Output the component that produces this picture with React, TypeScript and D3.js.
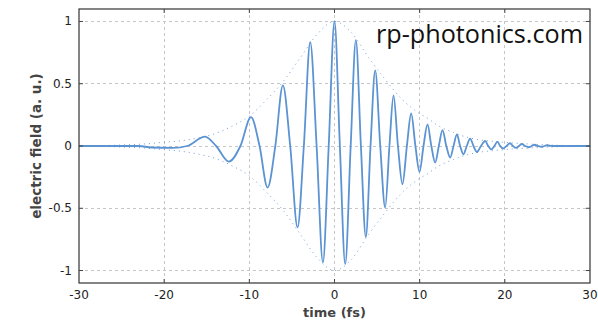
import React from 'react';
import * as d3 from 'd3';

// field samples: extrema and zero crossings
const waveT = [
  -30, -23, -21.5, -19, -17.3, -15.2, -13.9, -12.4, -11.05, -9.8, -8.8, -7.86, -6.95, -6.06, -5.2, -4.34,
  -3.6, -2.85, -2.1, -1.36, -0.68, 0, 0.63, 1.26, 1.9, 2.51, 3.1, 3.68, 4.23, 4.78, 5.37, 5.95,
  6.45, 6.93, 7.45, 7.98, 8.5, 9.0, 9.5, 9.98, 10.45, 10.92, 11.37, 11.82, 12.25, 12.68, 13.13, 13.58,
  13.98, 14.37, 14.75, 15.14, 15.53, 15.93, 16.32, 16.71, 17.2, 17.69, 18.05, 18.4, 18.77, 19.13, 19.45, 19.8,
  20.2, 20.6, 20.95, 21.3, 21.65, 22.0, 22.4, 22.8, 23.15, 23.5, 23.9, 24.3, 24.65, 25.0, 25.5, 30,
];
const waveV = [
  0, 0, -0.012, -0.015, 0, 0.075, 0, -0.125, 0, 0.232, 0, -0.334, 0, 0.487, 0, -0.654,
  0, 0.834, 0, -0.935, 0, 1.0, 0, -0.949, 0, 0.85, 0, -0.73, 0, 0.607, 0, -0.494,
  0, 0.407, 0, -0.307, 0, 0.262, 0, -0.208, 0, 0.174, 0, -0.133, 0, 0.128, 0, -0.093,
  0, 0.094, 0, -0.067, 0, 0.059, 0, -0.048, 0, 0.04, 0, -0.027, 0, 0.035, 0, -0.02,
  0, 0.022, 0, -0.015, 0, 0.016, 0, -0.01, 0, 0.01, 0, -0.006, 0, 0.006, 0, 0,
];

// envelope (dotted), upper half; lower is mirrored
const envT = [-30, -25, -22, -20, -18, -16, -14, -12, -10, -8, -6, -4, -2, 0, 2, 4, 6, 8, 9, 10, 11, 12, 13, 14, 15, 17, 19, 21, 24, 30];
const envV = [0, 0.008, 0.018, 0.03, 0.042, 0.065, 0.1, 0.16, 0.24, 0.37, 0.52, 0.71, 0.9, 1.0, 0.91, 0.71, 0.53, 0.37, 0.31, 0.26, 0.22, 0.17, 0.135, 0.108, 0.082, 0.05, 0.035, 0.024, 0.012, 0];

const xTicks = [-30, -20, -10, 0, 10, 20, 30];
const yTicks = [-1, -0.5, 0, 0.5, 1];

const W = 598, H = 320;
const margin = { top: 9, right: 8, bottom: 37, left: 79 };
const BLUE = '#5b93d3';
const FONT = 'DejaVu Sans, Verdana, sans-serif';

export default function App() {
  const x = d3.scaleLinear().domain([-30, 30]).range([margin.left, W - margin.right]);
  const y = d3.scaleLinear().domain([-1.1, 1.1]).range([H - margin.bottom, margin.top]);
  const x0 = x.range()[0], x1 = x.range()[1];
  const y0 = y.range()[0], y1 = y.range()[1];

  const wave = d3.line<number>().x((_, i) => x(waveT[i])).y(d => y(d)).curve(d3.curveMonotoneX)(waveV) || '';
  const envUp = d3.line<number>().x((_, i) => x(envT[i])).y(d => y(d)).curve(d3.curveMonotoneX)(envV) || '';
  const envDown = d3.line<number>().x((_, i) => x(envT[i])).y(d => y(-d)).curve(d3.curveMonotoneX)(envV) || '';

  return (
    <svg width={W} height={H} style={{ position: 'absolute', left: 0, top: 0, background: '#fff' }}>
      {/* grid */}
      <g stroke="#c6c6c6" strokeWidth={1} strokeDasharray="3,3" shapeRendering="crispEdges">
        {xTicks.slice(1, -1).map(t => <line key={'gx' + t} x1={x(t)} x2={x(t)} y1={y1} y2={y0} />)}
        {yTicks.map(t => <line key={'gy' + t} x1={x0} x2={x1} y1={y(t)} y2={y(t)} />)}
      </g>

      {/* envelope */}
      <g fill="none" stroke={BLUE} strokeWidth={1} strokeDasharray="1,4" opacity={0.85}>
        <path d={envUp} />
        <path d={envDown} />
      </g>

      {/* field */}
      <path d={wave} fill="none" stroke={BLUE} strokeWidth={1.8} strokeLinejoin="round" />

      {/* frame + ticks */}
      <rect x={x0} y={y1} width={x1 - x0} height={y0 - y1} fill="none" stroke="#333" strokeWidth={1.2} />
      <g stroke="#444" strokeWidth={1}>
        {xTicks.slice(1, -1).map(t => (
          <g key={'tx' + t}>
            <line x1={x(t)} x2={x(t)} y1={y0} y2={y0 - 4} />
            <line x1={x(t)} x2={x(t)} y1={y1} y2={y1 + 4} />
          </g>
        ))}
        {yTicks.map(t => (
          <g key={'ty' + t}>
            <line x1={x0} x2={x0 + 4} y1={y(t)} y2={y(t)} />
            <line x1={x1} x2={x1 - 4} y1={y(t)} y2={y(t)} />
          </g>
        ))}
      </g>

      {/* tick labels */}
      <g fontFamily={FONT} fontSize={12} fill="#222">
        {xTicks.map(t => (
          <text key={'lx' + t} x={x(t)} y={y0 + 15.5} textAnchor="middle">{t}</text>
        ))}
        {yTicks.map(t => (
          <text key={'ly' + t} x={x0 - 7} y={y(t) + 4} textAnchor="end">{t}</text>
        ))}
      </g>

      {/* axis titles */}
      <text x={(x0 + x1) / 2} y={316.5} textAnchor="middle" fontFamily={FONT} fontSize={13} fontWeight="bold" fill="#444">time (fs)</text>
      <text transform={`translate(41,${(y0 + y1) / 2}) rotate(-90)`} textAnchor="middle" fontFamily={FONT} fontSize={13.5} fontWeight="bold" fill="#444">electric field (a. u.)</text>

      {/* watermark */}
      <text x={376} y={43} fontFamily="Open Sans, Noto Sans, sans-serif" fontSize={25} fill="#111" textLength={207} lengthAdjust="spacingAndGlyphs">rp-photonics.com</text>
    </svg>
  );
}
